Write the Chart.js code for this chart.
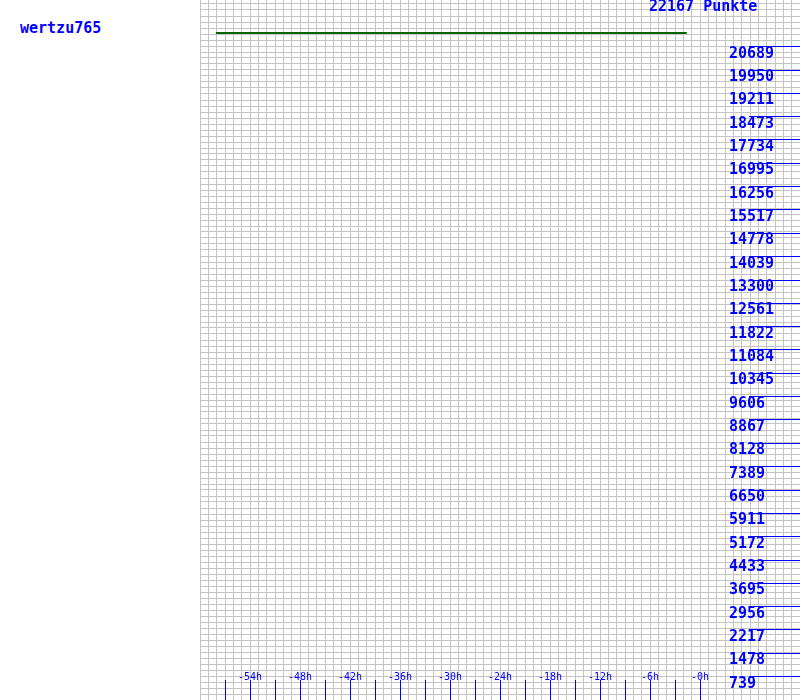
<!DOCTYPE html>
<html>
<head>
<meta charset="utf-8">
<script src="https://cdn.jsdelivr.net/npm/chart.js@4.4.1/dist/chart.umd.min.js"></script>
<style>
html,body{margin:0;padding:0;background:#fff;width:800px;height:700px;overflow:hidden;}
#name{position:absolute;left:20px;top:21px;font:bold 15px/15px "DejaVu Sans Mono",monospace;color:#0000ff;white-space:nowrap;}
#total{position:absolute;left:649px;top:-1px;font:bold 15px/15px "DejaVu Sans Mono",monospace;color:#0000ff;white-space:nowrap;z-index:2;}
#wrap{position:absolute;left:200px;top:0;width:600px;height:700px;}
</style>
</head>
<body>
<div id="name"></div>
<div id="wrap"><canvas id="c" width="600" height="700"></canvas></div>
<div id="total"></div>
<script>
const playerName = 'wertzu765';
const totalLabel = '22167 Punkte';
const pointsMax = 22167;
const yTickLabels = ['739','1478','2217','2956','3695','4433','5172','5911','6650','7389',
  '8128','8867','9606','10345','11084','11822','12561','13300','14039','14778',
  '15517','16256','16995','17734','18473','19211','19950','20689'];
const xTickHours = [-57,-54,-51,-48,-45,-42,-39,-36,-33,-30,-27,-24,-21,-18,-15,-12,-9,-6,-3,0];
const xLabelHours = [-54,-48,-42,-36,-30,-24,-18,-12,-6,0];
const xLabels = ['-54h','-48h','-42h','-36h','-30h','-24h','-18h','-12h','-6h','-0h'];
const lineHours = [-58.1, -1.6];
const linePoints = [22167, 22167];

document.getElementById('name').textContent = playerName;
document.getElementById('total').textContent = totalLabel;

const BLUE = '#0000ff';
const GRID = '#c4c4c4';
const noPad = s => { s.paddingTop = 0; s.paddingBottom = 0; s.paddingLeft = 0; s.paddingRight = 0; };
const zeroW = s => { s.width = 0; noPad(s); };
const zeroH = s => { s.height = 0; noPad(s); };

new Chart(document.getElementById('c'), {
  type: 'line',
  data: {
    datasets: [{
      data: lineHours.map((h, i) => ({x: h, y: linePoints[i]})),
      borderColor: '#006400',
      borderWidth: 2,
      pointRadius: 0,
      tension: 0,
      xAxisID: 'x',
      yAxisID: 'yData'
    }]
  },
  options: {
    responsive: false,
    animation: false,
    devicePixelRatio: 1,
    layout: {padding: 0, autoPadding: false},
    plugins: {legend: {display: false}, tooltip: {enabled: false}, title: {display: false}},
    scales: {
      x: {
        type: 'linear', position: 'bottom', min: -60, max: 12,
        afterFit: zeroH,
        ticks: {display: false, stepSize: 1, maxTicksLimit: 1000, autoSkip: false, includeBounds: false},
        grid: {color: GRID, lineWidth: 1, drawTicks: false},
        border: {display: false}
      },
      yGrid: {
        type: 'linear', position: 'left', min: 0, max: 700,
        afterFit: zeroW,
        ticks: {display: false, stepSize: 6, maxTicksLimit: 1000, autoSkip: false, includeBounds: false},
        grid: {color: GRID, lineWidth: 1, drawTicks: false},
        border: {display: false}
      },
      xt: {
        type: 'linear', position: 'bottom', min: -60, max: 12, z: 2,
        afterFit: zeroH,
        afterBuildTicks: s => { s.ticks = xTickHours.map(h => ({value: h})); },
        ticks: {
          mirror: true, padding: 17, autoSkip: false, maxRotation: 0, minRotation: 0,
          color: BLUE, font: {family: "'DejaVu Sans Mono', monospace", size: 10},
          callback: v => { const i = xLabelHours.indexOf(v); return i >= 0 ? xLabels[i] : ''; }
        },
        grid: {drawOnChartArea: false, drawTicks: true, tickLength: -20, tickColor: BLUE, tickWidth: 1},
        border: {display: false}
      },
      yMarks: {
        type: 'linear', position: 'right', min: 0, max: pointsMax, z: 2,
        afterFit: zeroW,
        afterBuildTicks: s => { s.ticks = yTickLabels.map(t => ({value: Number(t)})); },
        ticks: {display: false, autoSkip: false},
        grid: {drawOnChartArea: false, drawTicks: true, tickLength: -51, tickColor: BLUE, tickWidth: 1},
        border: {display: false}
      },
      y: {
        type: 'linear', position: 'left', min: 0, max: pointsMax, z: 2,
        afterFit: zeroW,
        afterBuildTicks: s => { s.ticks = yTickLabels.map(t => ({value: Number(t)})); },
        ticks: {
          mirror: true, padding: 529, labelOffset: 7, autoSkip: false,
          color: BLUE, font: {family: "'DejaVu Sans Mono', monospace", size: 15, weight: 'bold'},
          callback: (v, i) => yTickLabels[i]
        },
        grid: {display: false},
        border: {display: false}
      },
      yData: {
        type: 'linear', display: false, min: 0, max: 23264
      }
    }
  }
});
</script>
</body>
</html>
